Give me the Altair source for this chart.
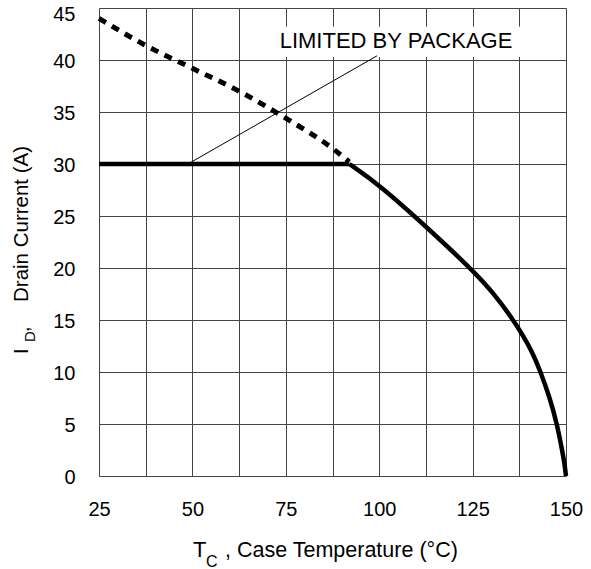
import altair as alt
import pandas as pd

# Package-limited (dashed) theoretical curve
dash_t = [25, 37.5, 50, 62.5, 75, 87.5, 92]
dash_i = [44.0, 41.4, 39.2, 37.0, 34.4, 31.5, 30.2]

# Package limit (solid horizontal)
pkg_t = [25, 92]
pkg_i = [30, 30]

# Silicon-limited curve (solid)
cur_t = [92, 100, 112.5, 125, 131, 135.5, 138.5, 141, 143, 145.6, 147.6, 148.9, 149.6, 150]
cur_i = [30, 28.0, 24.0, 19.8, 17.4, 15.2, 13.5, 11.9, 10.2, 7.6, 5.0, 2.6, 1.2, 0]

# Annotation leader line
lead_t = [48.8, 99.4]
lead_i = [30.0, 40.4]

ann_text = ["LIMITED BY PACKAGE"]
ann_t = [104.5]
ann_i = [41.8]
box_t = [71.0]
box_t2 = [138.0]
box_i = [40.3]
box_i2 = [43.2]

x_ticks = [25, 37.5, 50, 62.5, 75, 87.5, 100, 112.5, 125, 137.5, 150]
y_ticks = [0, 5, 10, 15, 20, 25, 30, 35, 40, 45]

FONT = "Liberation Sans"

xs = alt.Scale(domain=[25, 150], nice=False, zero=False)
ys = alt.Scale(domain=[0, 45], nice=False)

xaxis = alt.Axis(values=x_ticks, title=None, grid=True, ticks=False, tickSize=0,
                 labelExpr="datum.value % 25 == 0 ? datum.label : ''",
                 labelFontSize=20, labelFont=FONT, labelColor="black",
                 labelPadding=23, domain=False, gridColor="#444", gridWidth=1,
                 labelFlush=False)
yaxis = alt.Axis(values=y_ticks, title=None, grid=True, ticks=False, tickSize=0,
                 labelFontSize=20, labelFont=FONT, labelColor="black",
                 labelPadding=24, domain=False, gridColor="#444", gridWidth=1,
                 labelFlush=False,
                 labelOffset={"condition": {"test": "datum.value >= 45", "value": 6},
                              "value": 1})

dash_df = pd.DataFrame({"t": dash_t, "i": dash_i})
pkg_df = pd.DataFrame({"t": pkg_t, "i": pkg_i})
cur_df = pd.DataFrame({"t": cur_t, "i": cur_i})
lead_df = pd.DataFrame({"t": lead_t, "i": lead_i})
ann_df = pd.DataFrame({"t": ann_t, "i": ann_i, "txt": ann_text})
box_df = pd.DataFrame({"t": box_t, "t2": box_t2, "i": box_i, "i2": box_i2})

base_x = alt.X("t:Q", scale=xs, axis=xaxis)
base_y = alt.Y("i:Q", scale=ys, axis=yaxis)

dashed = alt.Chart(dash_df).mark_line(color="black", strokeWidth=5, strokeDash=[8, 7],
                                      strokeCap="butt", interpolate="monotone").encode(
    x=base_x, y=base_y, order="t:Q")
pkg = alt.Chart(pkg_df).mark_line(color="black", strokeWidth=4.5).encode(
    x=alt.X("t:Q", scale=xs), y=alt.Y("i:Q", scale=ys))
cur = alt.Chart(cur_df).mark_line(color="black", strokeWidth=4.5,
                                  interpolate="basis").encode(
    x=alt.X("t:Q", scale=xs), y=alt.Y("i:Q", scale=ys), order="t:Q")
lead = alt.Chart(lead_df).mark_line(color="black", strokeWidth=1).encode(
    x=alt.X("t:Q", scale=xs), y=alt.Y("i:Q", scale=ys))
box = alt.Chart(box_df).mark_rect(color="white").encode(
    x=alt.X("t:Q", scale=xs), x2="t2:Q", y=alt.Y("i:Q", scale=ys), y2="i2:Q")
ann = alt.Chart(ann_df).mark_text(font=FONT, fontSize=22, color="black",
                                  align="center", baseline="middle").encode(
    x=alt.X("t:Q", scale=xs), y=alt.Y("i:Q", scale=ys), text="txt:N")

# Axis titles with subscripts
def label(txt, x, y, size, angle=0, align="left", baseline="alphabetic"):
    kw = dict(font=FONT, fontSize=size, color="black", align=align, baseline=baseline)
    if angle:
        kw["angle"] = angle
    return alt.Chart(pd.DataFrame({"s": [txt]})).mark_text(**kw).encode(
        x=alt.value(x), y=alt.value(y), text="s:N")

xt1 = label("T", 94, 549, 22)
xt2 = label("C", 107, 559, 16)
xt3 = label(", Case Temperature (\u00b0C)", 126, 549, 21.5)

yt1 = label("I", -71, 346, 20, angle=270)
yt2 = label("D", -64, 334, 15, angle=270)
yt3 = label(",", -70, 324, 20, angle=270)
yt4 = label("Drain Current  (A)", -71, 294, 20.5, angle=270)

chart = alt.layer(
    box, lead, dashed, pkg, cur, ann, xt1, xt2, xt3, yt1, yt2, yt3, yt4
).properties(
    width=467, height=468,
    autosize=alt.AutoSizeParams(type="none"),
    padding={"left": 99, "top": 8, "right": 25, "bottom": 93},
).configure_view(
    stroke="black", strokeWidth=4
).configure(background="white")

chart.save("out.html", embed_options={"renderer": "svg", "actions": False})
